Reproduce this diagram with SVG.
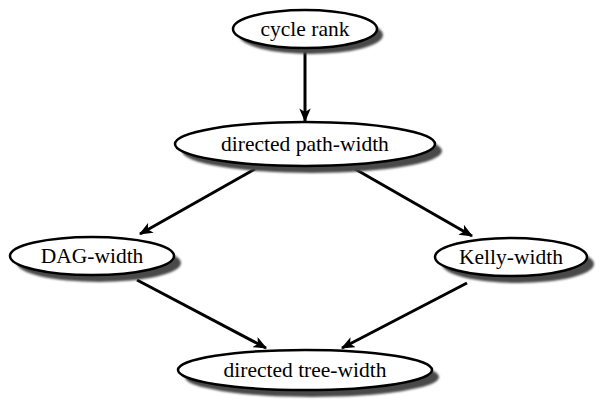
<svg xmlns="http://www.w3.org/2000/svg" width="599" height="399" viewBox="0 0 599 399">
  <style>
    .shadow { fill: #4a4a4a; filter: url(#soft); }
    .body { fill: #fff; stroke: #000; stroke-width: 2.5; }
    .label { font-family: "Liberation Serif", "Times New Roman", serif; font-size: 21.5px; fill: #000; text-anchor: middle; dominant-baseline: central; }
    .edge { stroke: #000; stroke-width: 3; fill: none; marker-end: url(#arrow); }
  </style>
  <defs>
    <filter id="soft" x="-10%" y="-30%" width="120%" height="160%">
      <feGaussianBlur stdDeviation="0.9"/>
    </filter>
    <marker id="arrow" viewBox="0 0 12 10" refX="11" refY="5" markerWidth="4.6" markerHeight="3.8" orient="auto" markerUnits="strokeWidth">
      <path d="M0,0 L12,5 L0,10 L3,5 Z" fill="#000"/>
    </marker>
  </defs>

  <g id="connectors">
    <line class="edge" x1="305" y1="48" x2="305" y2="121"/>
    <line class="edge" x1="255" y1="169" x2="140" y2="234"/>
    <line class="edge" x1="355" y1="169" x2="472" y2="236"/>
    <line class="edge" x1="137" y1="280" x2="266" y2="348"/>
    <line class="edge" x1="467" y1="283" x2="342" y2="348"/>
  </g>

  <g id="cycle-rank">
    <ellipse class="shadow" cx="311" cy="35" rx="72" ry="19"/>
    <ellipse class="body" cx="305" cy="29" rx="72" ry="19"/>
    <text class="label" x="305" y="29">cycle rank</text>
  </g>

  <g id="directed-path-width">
    <ellipse class="shadow" cx="312" cy="151" rx="130" ry="22"/>
    <ellipse class="body" cx="305" cy="144" rx="130" ry="22"/>
    <text class="label" x="305" y="144">directed path-width</text>
  </g>

  <g id="dag-width">
    <ellipse class="shadow" cx="99" cy="263" rx="82" ry="19"/>
    <ellipse class="body" cx="92" cy="256" rx="82" ry="19"/>
    <text class="label" x="92" y="256">DAG-width</text>
  </g>

  <g id="kelly-width">
    <ellipse class="shadow" cx="518" cy="264" rx="76" ry="19"/>
    <ellipse class="body" cx="511" cy="257" rx="76" ry="19"/>
    <text class="label" x="511" y="257">Kelly-width</text>
  </g>

  <g id="directed-tree-width">
    <ellipse class="shadow" cx="312" cy="377" rx="127" ry="20"/>
    <ellipse class="body" cx="305" cy="370" rx="127" ry="20"/>
    <text class="label" x="305" y="370">directed tree-width</text>
  </g>
</svg>
